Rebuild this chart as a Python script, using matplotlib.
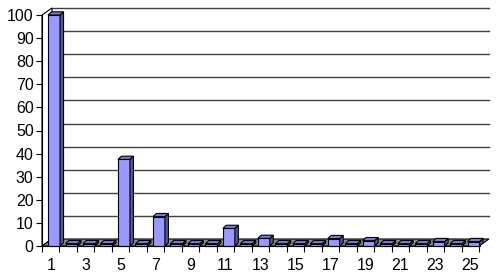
import matplotlib
matplotlib.use("Agg")
import matplotlib.pyplot as plt
from matplotlib.patches import Polygon

cats = list(range(1, 26))
vals = [100, 1, 1, 1, 37.5, 1, 12.7, 1, 1, 1, 7.6, 1, 3.3, 1, 1, 1, 3.2, 1, 2.3, 1, 1, 1, 1.9, 1, 1.9]
yticks = list(range(0, 101, 10))

plt.rcParams['font.family'] = ['Liberation Sans', 'DejaVu Sans']

W, H = 498, 276
fig = plt.figure(figsize=(W / 100, H / 100), dpi=100)
x0, x1, y0, y1 = 42, 479, 246, 15
ax = fig.add_axes([x0 / W, (H - y0) / H, (x1 - x0) / W, (y0 - y1) / H])
ax.set_xlim(0.5, 25.5)
ax.set_ylim(0, 100)

pxx = (x1 - x0) / 25.0
pxy = (y0 - y1) / 100.0
# wall depth in data units
ddx = 10 / pxx
ddy = 7 / pxy

def poly(pts, fc, ec='black', lw=0.8, z=1):
    p = Polygon(pts, closed=True, facecolor=fc, edgecolor=ec, linewidth=lw,
                clip_on=False, zorder=z, joinstyle='miter')
    ax.add_patch(p)

# gridlines on back wall
for t in yticks[1:]:
    ax.plot([0.5 + ddx, 25.5 + ddx], [t + ddy, t + ddy], color='#404040', lw=1.0,
            clip_on=False, zorder=1.5)
# left wall
poly([(0.5, 0), (0.5 + ddx, ddy), (0.5 + ddx, 100 + ddy), (0.5, 100)], 'white', z=1.6)
# floor
poly([(0.5, 0), (25.5, 0), (25.5 + ddx, ddy), (0.5 + ddx, ddy)], '#8c8c8c', z=2)

# bars
bw = 12 / pxx
sx = 3.3 / pxx
bdx = 3.5 / pxx
bdy = 3.2 / pxy
for c, v in zip(cats, vals):
    l = c - bw / 2 + sx
    r = l + bw
    poly([(l, 0), (r, 0), (r, v), (l, v)], '#9999ff', z=3)
    poly([(r, 0), (r + bdx, bdy), (r + bdx, v + bdy), (r, v)], '#56569c', z=3)
    poly([(l, v), (r, v), (r + bdx, v + bdy), (l + bdx, v + bdy)], '#7b7bd0', z=3)

for s in ['top', 'right']:
    ax.spines[s].set_visible(False)
ax.spines['left'].set_zorder(4)
ax.spines['bottom'].set_zorder(4)
ax.patch.set_visible(False)

ax.set_yticks(yticks)
ax.tick_params(axis='y', direction='out', length=4, pad=2, labelsize=11.5)
ax.set_xticks([i + 0.5 for i in range(0, 26)])
ax.set_xticklabels([])
ax.set_xticks(cats[::2], [str(c) for c in cats[::2]], minor=True)
ax.tick_params(axis='x', which='major', direction='out', length=4)
ax.tick_params(axis='x', which='minor', length=0, pad=9, labelsize=11.5)

fig.savefig('out.png', dpi=100)
